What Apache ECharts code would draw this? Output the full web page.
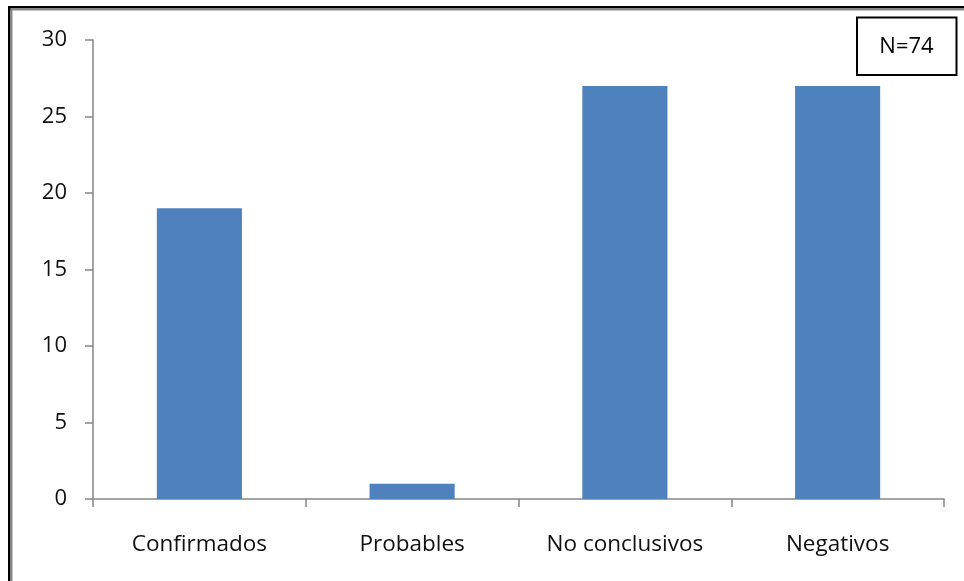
<!DOCTYPE html>
<html>
<head>
<meta charset="utf-8">
<script src="https://cdn.jsdelivr.net/npm/echarts@6/dist/echarts.min.js"></script>
<style>
  html, body { margin: 0; padding: 0; background: #fff; }
  #chart { width: 964px; height: 581px; }
</style>
</head>
<body>
<div id="chart"></div>
<script>
// Resultados por categoría
const categories = ['Confirmados', 'Probables', 'No conclusivos', 'Negativos'];
const counts = [19, 1, 27, 27];
const totalLabel = 'N=74';

const FONT = '"Open Sans", "Liberation Sans", sans-serif';
const chart = echarts.init(document.getElementById('chart'), null, { renderer: 'canvas' });

chart.setOption({
  animation: false,
  backgroundColor: '#ffffff',
  grid: { left: 93, right: 20, top: 40, bottom: 82, containLabel: false },
  xAxis: {
    type: 'category',
    data: categories,
    axisLine: { show: true, lineStyle: { color: '#868686', width: 1.5 } },
    axisTick: { show: true, alignWithLabel: false, length: 8, lineStyle: { color: '#868686', width: 1.5 } },
    axisLabel: { color: '#111', fontSize: 22.5, fontFamily: FONT, margin: 34 },
    splitLine: { show: false }
  },
  yAxis: {
    type: 'value',
    min: 0,
    max: 30,
    interval: 5,
    axisLine: { show: true, lineStyle: { color: '#868686', width: 1.5 } },
    axisTick: { show: true, length: 8, lineStyle: { color: '#868686', width: 1.5 } },
    axisLabel: { color: '#111', fontSize: 22, fontFamily: FONT, margin: 26 },
    splitLine: { show: false }
  },
  series: [{
    type: 'bar',
    data: counts,
    barWidth: '40%',
    itemStyle: { color: '#4F81BD' }
  }],
  graphic: [
    // marco superior e izquierdo
    { type: 'rect', shape: { x: 8, y: 6, width: 956, height: 2.5 }, style: { fill: '#000' }, silent: true },
    { type: 'rect', shape: { x: 10, y: 8.5, width: 954, height: 2 }, style: { fill: '#8a8a8a' }, silent: true },
    { type: 'rect', shape: { x: 8, y: 6, width: 2.5, height: 575 }, style: { fill: '#000' }, silent: true },
    { type: 'rect', shape: { x: 10.5, y: 8.5, width: 2, height: 573 }, style: { fill: '#8a8a8a' }, silent: true },
    // cuadro con el total
    {
      type: 'rect',
      shape: { x: 857, y: 17.5, width: 99.5, height: 57.5 },
      style: { fill: '#fff', stroke: '#000', lineWidth: 2 },
      silent: true
    },
    {
      type: 'text',
      x: 906.5, y: 46.5,
      style: {
        text: totalLabel,
        fill: '#000',
        font: '22px ' + FONT,
        align: 'center',
        verticalAlign: 'middle'
      },
      silent: true
    }
  ]
});
</script>
</body>
</html>
